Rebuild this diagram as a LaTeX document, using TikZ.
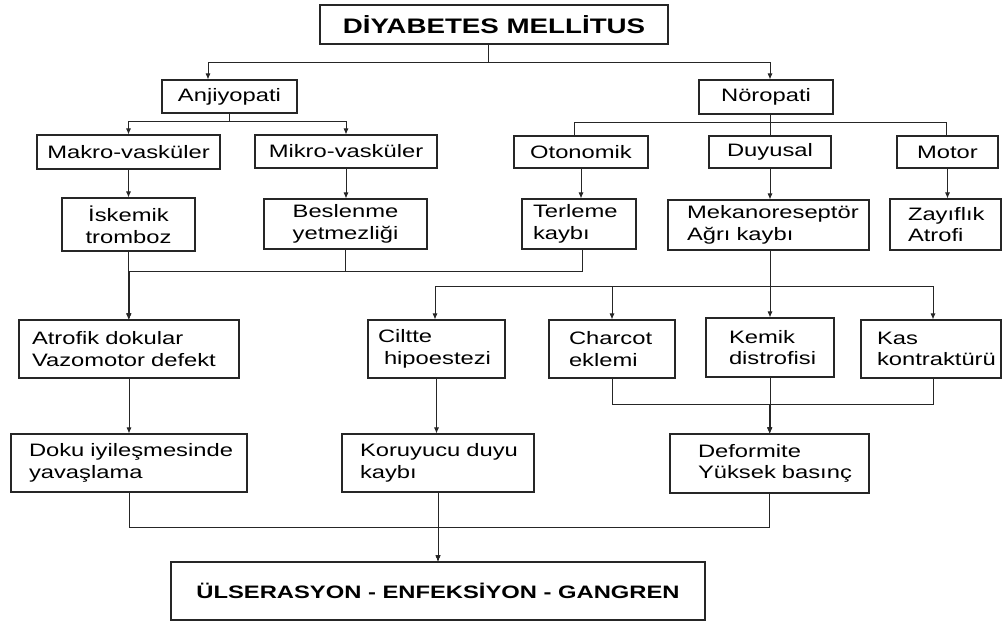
\documentclass[tikz,border=0pt]{standalone}
\usepackage{fontspec}
\setmainfont{Liberation Sans}[FakeStretch=1.32]
\usetikzlibrary{arrows.meta}
\hyphenpenalty=10000
\exhyphenpenalty=10000
\hbadness=10000
\hfuzz=100pt
\begin{document}
\begin{tikzpicture}[x=1pt,y=-1pt,
  bx/.style={draw=black!85, line width=1.1pt, inner ysep=0pt, font=\fontsize{18}{21.7}\selectfont},
  cb/.style={bx, align=center, inner xsep=0pt},
  lb/.style={bx, align=left},
  ln/.style={draw=black!85, line width=0.9pt},
  ar/.style={ln, -{Latex[length=6pt,width=5pt]}}]

\useasboundingbox[fill=white] (0,0) rectangle (1002,621);

% top
\node[cb, minimum width=348pt, minimum height=39pt, font=\fontsize{21}{25}\selectfont\bfseries] (title) at (494,24.5) {DİYABETES MELLİTUS};
\node[cb, minimum width=135pt, minimum height=33pt] (anj) at (229.5,96.5) {Anjiyopati};
\node[cb, minimum width=134pt, minimum height=34pt] (nor) at (766,97) {Nöropati};

% second level
\node[cb, minimum width=183pt, minimum height=34pt] (makro) at (128.5,152) {Makro-vasküler};
\node[cb, minimum width=182pt, minimum height=33pt] (mikro) at (346,151.5) {Mikro-vasküler};
\node[cb, minimum width=134pt, minimum height=32pt] (oto) at (581,152) {Otonomik};
\node[cb, minimum width=122pt, minimum height=32pt] (duy) at (770,152) {Duyusal};
\node[cb, minimum width=101pt, minimum height=32pt] (mot) at (947.5,152) {Motor};

% third level
\node[cb, minimum width=133pt, minimum height=53pt] (isk) at (128.5,224.5) {İskemik\\tromboz};
\node[cb, minimum width=163pt, minimum height=50pt] (bes) at (345.5,224) {Beslenme\\yetmezliği};
\node[lb, inner xsep=11pt, text width=92pt, minimum height=50pt] (ter) at (579,224) {Terleme\\kaybı};
\node[lb, inner xsep=19pt, text width=163pt, minimum height=50pt] (mek) at (768.5,225) {Mekanoreseptör\\Ağrı~kaybı};
\node[lb, inner xsep=18pt, text width=75pt, minimum height=51pt] (zay) at (945.5,224.5) {Zayıflık\\Atrofi};

% fourth level
\node[lb, inner xsep=13pt, text width=194pt, minimum height=58pt] (atr) at (129,349) {Atrofik~dokular\\Vazomotor~defekt};
\node[lb, inner xsep=10pt, text width=117pt, minimum height=58pt] (cil) at (436.5,349) {Ciltte\\\hspace*{6pt}hipoestezi};
\node[lb, inner xsep=20pt, text width=86pt, minimum height=58pt] (cha) at (612,349) {Charcot\\eklemi};
\node[lb, inner xsep=23pt, text width=82pt, minimum height=59pt] (kem) at (770,347.5) {Kemik\\distrofisi};
\node[lb, inner xsep=16pt, text width=108pt, minimum height=58pt] (kas) at (931,349) {Kas\\kontraktürü};

% fifth level
\node[lb, inner xsep=18pt, text width=200pt, minimum height=58pt] (dok) at (129,463) {Doku~iyileşmesinde\\yavaşlama};
\node[lb, inner xsep=18pt, text width=156pt, minimum height=58pt] (kor) at (438,463) {Koruyucu~duyu\\kaybı};
\node[lb, inner xsep=28pt, text width=143pt, minimum height=59pt] (def) at (769.5,463.5) {Deformite\\Yüksek~basınç};

% bottom
\node[cb, minimum width=534pt, minimum height=58pt, font=\fontsize{18}{22}\selectfont\bfseries] (uls) at (438,591) {ÜLSERASYON - ENFEKSİYON - GANGREN};

% connectors
\draw[ar] ([xshift=-6pt]title.south) -- ++(0,18) -| ([xshift=-21.5pt]anj.north);
\draw[ar] ([xshift=-6pt]title.south) -- ++(0,18) -| ([xshift=4pt]nor.north);

\draw[ar] (anj.south) -- ++(0,8) -| (makro.north);
\draw[ar] (anj.south) -- ++(0,8) -| (mikro.north);

\draw[ln] ([xshift=4pt]nor.south) -- ++(0,8) -| ([xshift=-7pt]oto.north);
\draw[ln] ([xshift=4pt]nor.south) -- (duy.north);
\draw[ln] ([xshift=4pt]nor.south) -- ++(0,8) -| ([xshift=-1.5pt]mot.north);

\draw[ar] (makro.south) -- (makro.south |- isk.north);
\draw[ar] (mikro.south) -- (mikro.south |- bes.north);
\draw[ar] (oto.south) -- (oto.south |- ter.north);
\draw[ar] (duy.south) -- (duy.south |- mek.north);
\draw[ar] (mot.south) -- (mot.south |- zay.north);

\draw[ar] (isk.south) -- (isk.south |- atr.north);
\draw[ar] (bes.south) -- ++(0,22) -| (atr.north);
\draw[ar] ([xshift=3pt]ter.south) -- ++(0,22) -| (atr.north);

\draw[ar] ([xshift=1.5pt]mek.south) -- ++(0,36) -| ([xshift=-1.5pt]cil.north);
\draw[ar] ([xshift=1.5pt]mek.south) -- ++(0,36) -| (cha.north);
\draw[ar] ([xshift=1.5pt]mek.south) -- (kem.north);
\draw[ar] ([xshift=1.5pt]mek.south) -- ++(0,36) -| ([xshift=2pt]kas.north);

\draw[ar] (atr.south) -- (dok.north);
\draw[ar] (cil.south) -- (cil.south |- kor.north);

\draw[ar] (cha.south) -- ++(0,26) -| (def.north);
\draw[ar] ([xshift=2pt]kas.south) -- ++(0,26) -| (def.north);
\draw[ar] (kem.south) -- (kem.south |- def.north);

\draw[ar] (dok.south) -- ++(0,35) -| (uls.north);
\draw[ar] (def.south) -- ++(0,34) -| (uls.north);
\draw[ar] (kor.south) -- (uls.north);
\end{tikzpicture}
\end{document}
